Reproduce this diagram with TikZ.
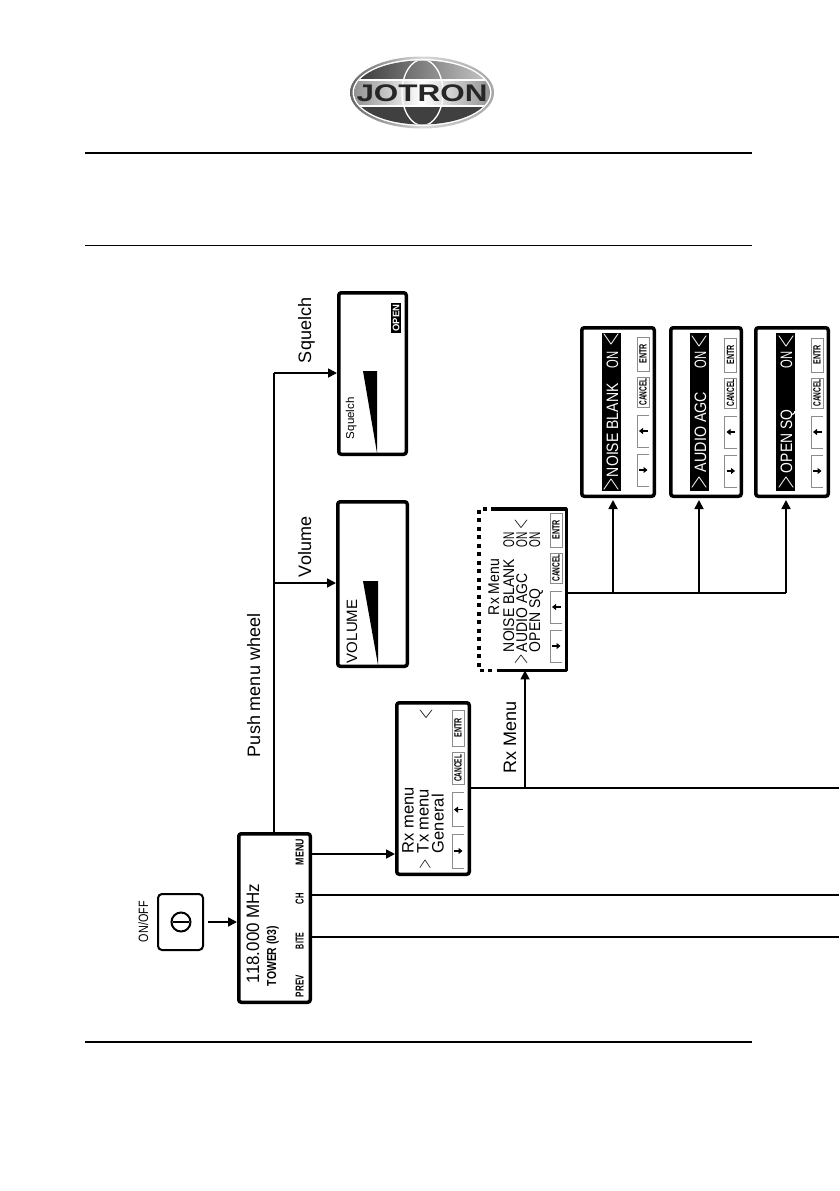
\documentclass[tikz,border=0pt]{standalone}
\usepackage{fontspec}
\usepackage{graphicx}
\setmainfont{Liberation Sans}
\usetikzlibrary{arrows.meta}
\tikzset{
  panel/.style={draw=black,line width=3.5pt,rounded corners=2.5pt,fill=white,inner sep=0pt},
  rtext/.style={rotate=90,anchor=base west,inner sep=0pt,outer sep=0pt},
  btn/.style={draw=black!45,line width=0.7pt,fill=white,inner sep=0pt},
  conn/.style={draw=black,line width=1.7pt},
  arr/.style={conn,-{Triangle[length=9pt,width=9pt]}},
  rule/.style={draw=black},
  smallarrow/.style={line width=1.2pt,-{Triangle[length=4pt,width=6pt]}}
}
\newcommand{\rtx}[6][black]{\node[rtext,text=#1] (#2) at (#3,#4) {\fontsize{#5}{#5}\selectfont #6};}
\newcommand{\rsx}[7][black]{\node[rtext,text=#1] (#2) at (#3,#4) {\fontsize{#5}{#5}\selectfont\scalebox{#6}[1]{#7}};}
% chevron: colour, name, centre x, lower y, x scale, y scale, glyph
\newcommand{\chev}[7][black]{\node[rtext,text=#1] (#2) at ({#3+2.5*#6},#4) {\fontsize{10}{10}\selectfont\scalebox{#5}[#6]{$#7$}};}
\newcommand{\narrowtx}[6]{\node[rtext] (#1) at (#2,#3) {\fontsize{#4}{#4}\selectfont\bfseries\scalebox{#5}[1]{#6}};}
\newcommand{\pnl}[5]{\node[panel,minimum width={(#4-#2-3.5)*1pt},minimum height={(#5-#3-3.5)*1pt}] (#1) at ({(#2+#4)/2},{(#3+#5)/2}) {};}
% name, left x, first y, y scale
\newcommand{\btns}[4]{%
  \node[btn,minimum width=12pt,minimum height={34*#4*1pt}] (#1e) at ({#2+6},{#3+17*#4}) {\rotatebox{90}{\fontsize{10.5}{10.5}\selectfont\bfseries\scalebox{.68}[1]{ENTR}}};
  \node[btn,minimum width=12pt,minimum height={30*#4*1pt}] (#1c) at ({#2+6},{#3+55*#4}) {\rotatebox{90}{\fontsize{10.5}{10.5}\selectfont\bfseries\scalebox{.62}[1]{CANCEL}}};
  \draw[draw=black!45,line width=0.7pt] ({#2+12},{#3+78*#4}) -- ({#2},{#3+78*#4}) -- ({#2},{#3+110*#4}) -- ({#2+12},{#3+110*#4});
  \draw[draw=black!45,line width=0.7pt] ({#2+12},{#3+117*#4}) -- ({#2},{#3+117*#4}) -- ({#2},{#3+149*#4}) -- ({#2+12},{#3+149*#4});
  \draw[smallarrow] ({#2+10.5},{#3+94*#4}) -- ({#2+2},{#3+94*#4});
  \draw[smallarrow] ({#2+2},{#3+133*#4}) -- ({#2+10.5},{#3+133*#4});
}
\begin{document}
\begin{tikzpicture}[x=1pt,y=-1pt]
\useasboundingbox (0,0) rectangle (839,1191);
\fill[white] (0,0) rectangle (839,1191);
% logo
\begin{scope}
  \shade[left color=black!60,right color=black!35,middle color=black!15] (422,92.5) ellipse [x radius=72,y radius=36];
  \fill[white] (422,92.5) ellipse [x radius=69.5,y radius=33.5];
  \clip (422,92.5) ellipse [x radius=68,y radius=32];
  \shade[left color=black!80,right color=black!20] (350,58) rectangle (494,80);
  \fill[black!75] (350,106) rectangle (494,130);
  \shade[left color=black!45,right color=black!45,middle color=white] (350,81) rectangle (494,105);
  \draw[white,line width=1.2pt] (350,80) -- (494,80) (350,106) -- (494,106);
  \draw[white,line width=1.3pt] (422.5,92.5) ellipse [x radius=20.5,y radius=33];
\end{scope}
\node[inner sep=0pt,text=black!85] (logotext) at (422,93.5) {\fontsize{24}{24}\selectfont\bfseries\scalebox{1.31}[1]{JOTRON}};
% rules
\coordinate (r1a) at (85,153); \coordinate (r1b) at (752,153);
\coordinate (r2a) at (85,245); \coordinate (r2b) at (752,245);
\coordinate (r3a) at (85,1042); \coordinate (r3b) at (752,1042);
\draw[rule,line width=2.6pt] (r1a) -- (r1b);
\draw[rule,line width=0.9pt] (r2a) -- (r2b);
\draw[rule,line width=2.6pt] (r3a) -- (r3b);
% panels
\node[draw=black,line width=2pt,rounded corners=4pt,fill=white,minimum width=45pt,minimum height=56pt,inner sep=0pt] (onoff) at (180.5,922) {};
\pnl{mainbox}{237}{832}{312}{1004}
\pnl{rxbox}{395}{701}{471}{876}
\pnl{squelch}{337}{291}{408}{456}
\pnl{volume}{336}{500}{409}{668}
\pnl{noise}{580}{326}{656}{498}
\pnl{agc}{669}{326}{743}{498}
\pnl{opensq}{754}{326}{830}{498}
% Rx Menu box with a dotted part
\node[inner sep=0pt,minimum width=87.5pt,minimum height=161.5pt] (rxmenu) at (522.5,589.5) {};
\draw[line width=3.5pt,line join=round] (495,508.75) -- (566.25,508.75) -- (566.25,670.25) -- (500,670.25);
\draw[line width=3.5pt,dash pattern=on 4pt off 4.5pt] (495,508.75) -- (478.75,508.75) -- (478.75,670.25) -- (500,670.25);
% connectors
\coordinate (topbend) at (274,373);
\coordinate (volbend) at (274,583);
\coordinate (menuy) at (312,854);
\coordinate (chend) at (839,895);
\coordinate (biteend) at (839,937);
\coordinate (rxend) at (839,788);
\coordinate (rxjoin) at (525,788);
\coordinate (busy) at (568,593);
\coordinate (j1) at (613,593);
\coordinate (j2) at (699,593);
\coordinate (j3) at (786,593);
\draw[arr,shorten <=4pt] (onoff.east) -- (onoff.east -| mainbox.south west);
\draw[conn] (mainbox.north -| topbend) -- (topbend);
\draw[arr] (topbend) -- (topbend -| squelch.west);
\draw[arr] (volbend) -- (volbend -| volume.west);
\draw[arr] (menuy -| mainbox.east) -- (menuy -| rxbox.west);
\draw[conn] (chend -| mainbox.east) -- (chend);
\draw[conn] (biteend -| mainbox.east) -- (biteend);
\draw[conn] (rxend -| rxbox.east) -- (rxend);
\draw[arr] (rxjoin) -- (rxjoin |- rxmenu.south);
\draw[conn] (busy) -- (j3);
\draw[arr,shorten >=2pt] (j1) -- (j1 |- noise.south);
\draw[arr,shorten >=2pt] (j2) -- (j2 |- agc.south);
\draw[arr,shorten >=2pt] (j3) -- (j3 |- opensq.south);
% on/off symbol
\draw[line width=2pt] (181,922) circle [radius=9.5];
\draw[line width=2pt] (173,922) -- (189,922);
\rsx{onofflabel}{148}{942}{13.5}{.8}{ON/OFF}
% main box text
\rsx{freq}{259}{983}{18}{.94}{118.000 MHz}
\node[rtext] (tower) at (276,986) {\fontsize{13}{13}\selectfont\bfseries\scalebox{.8}[1]{TOWER (03)}};
\narrowtx{prev}{303.5}{997}{11.5}{.7}{PREV}
\narrowtx{bite}{303.5}{949}{11.5}{.61}{BITE}
\narrowtx{ch}{303.5}{904}{11.5}{.66}{CH}
\narrowtx{menu}{303.5}{865}{11.5}{.77}{MENU}
% flow labels
\rtx{lsq}{311}{363}{18}{Squelch}
\rtx{lvol}{311}{577}{18}{Volume}
\rtx{lpush}{260}{757}{18}{Push menu wheel}
\rtx{lrx}{516}{773}{18}{Rx Menu}
% squelch and volume panels
\fill (363,371) -- (377,371) -- (377,453) -- cycle;
\fill (363,581) -- (378,581) -- (378,665) -- cycle;
\rtx{sqsmall}{354}{439}{11.5}{Squelch}
\rtx{volsmall}{357}{663}{15}{VOLUME}
\node[fill=black,text=white,minimum width=10pt,minimum height=30pt,inner sep=0pt] (openlabel) at (396,318) {\rotatebox{90}{\fontsize{9.5}{9.5}\selectfont\bfseries OPEN}};
% Rx menu panel
\rtx{a1}{413.5}{853}{16.5}{Rx menu}
\rtx{a2}{428.5}{853}{16.5}{Tx menu}
\rtx{a3}{443.5}{853}{16.5}{General}
\chev{a4}{425}{869}{1.35}{1.9}{>}
\chev{a5}{426}{719}{1.35}{2.2}{<}
\btns{pa}{452}{710}{1.06}
% Rx Menu panel
\rsx{b1}{499}{615}{15.5}{.9}{Rx Menu}
\rsx{b2}{514}{652}{15.5}{.9}{NOISE BLANK}
\rsx{b3}{514}{547}{15.5}{.65}{ON}
\rsx{b4}{527}{652}{15.5}{.9}{AUDIO AGC}
\rsx{b5}{527}{547}{15.5}{.65}{ON}
\rsx{b6}{540}{652}{15.5}{.9}{OPEN SQ}
\rsx{b7}{540}{547}{15.5}{.65}{ON}
\chev{b8}{521}{664}{1.35}{2.2}{>}
\chev{b9}{521}{529}{1.35}{2.2}{<}
\btns{pb}{550}{513}{1}
% sub panels
\fill (602,333) rectangle (621,491);
\fill (690,333) rectangle (708.5,491);
\fill (776,333) rectangle (795,491);
\rsx[white]{c1}{618}{477}{16.5}{.85}{NOISE BLANK}
\rsx[white]{c2}{618}{368}{16.5}{.68}{ON}
\chev[white]{c3}{611}{491}{1.8}{2.6}{>}
\chev[white]{c4}{611}{346}{1.8}{2.6}{<}
\btns{pc}{637}{337}{1}
\rsx[white]{d1}{706}{472}{16.5}{.866}{AUDIO AGC}
\rsx[white]{d2}{706}{368}{16.5}{.68}{ON}
\chev[white]{d3}{699}{489}{1.8}{2.6}{>}
\chev[white]{d4}{699}{348}{1.8}{2.6}{<}
\btns{pd}{724.5}{338}{1}
\rsx[white]{e1}{792}{473}{16.5}{.84}{OPEN SQ}
\rsx[white]{e2}{792}{368}{16.5}{.68}{ON}
\chev[white]{e3}{786}{489}{1.8}{2.6}{>}
\chev[white]{e4}{786}{348}{1.8}{2.6}{<}
\btns{pe}{811}{338}{1}
\end{tikzpicture}
\end{document}
